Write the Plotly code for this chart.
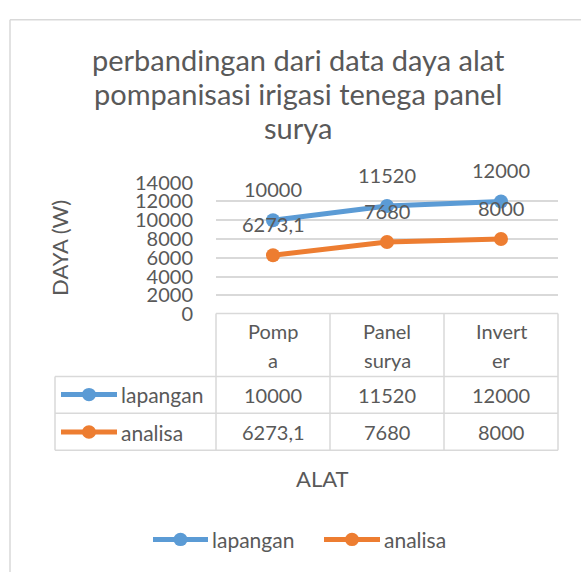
import plotly.graph_objects as go

# ---- data ----
categories = ["Pompa", "Panel surya", "Inverter"]
category_lines = [["Pomp", "a"], ["Panel", "surya"], ["Invert", "er"]]
lapangan = [10000, 11520, 12000]
analisa = [6273.1, 7680, 8000]
series_names = ["lapangan", "analisa"]
y_ticks = [0, 2000, 4000, 6000, 8000, 10000, 12000, 14000]
title_lines = ["perbandingan dari data daya alat", "pompanisasi irigasi tenega panel", "surya"]

W, H = 581, 583
FONT = "Lato"
TXT = "#595959"
GRID = "#d9d9d9"
COLORS = ["#5b9bd5", "#ed7d31"]


def px(x):
    return x / W


def py(y):
    return 1 - y / H


def fmt(v):
    return f"{v:g}".replace(".", ",")


fig = go.Figure()
series = [lapangan, analisa]
for name, vals, col in zip(series_names, series, COLORS):
    fig.add_trace(go.Scatter(
        x=categories, y=vals, name=name, mode="lines+markers",
        line=dict(color=col, width=5),
        marker=dict(color=col, size=14),
        showlegend=False, hoverinfo="x+y",
    ))

annotations = []
# data labels
for vals in series:
    for c, v in zip(categories, vals):
        annotations.append(dict(x=c, y=v, xref="x", yref="y", text=fmt(v),
                                showarrow=False, yshift=31,
                                font=dict(family=FONT, size=20, color=TXT)))

# title
for i, t in enumerate(title_lines):
    annotations.append(dict(x=px(298), y=py(49 + i * 35), xref="paper", yref="paper",
                            text=t, showarrow=False, xanchor="center", yanchor="middle",
                            font=dict(family=FONT, size=29, color=TXT)))

# axis titles
annotations.append(dict(x=px(60), y=py(245), xref="paper", yref="paper", text="DAYA (W)",
                        textangle=-90, showarrow=False, xanchor="center", yanchor="middle",
                        font=dict(family=FONT, size=22, color=TXT)))
annotations.append(dict(x=px(322), y=py(486), xref="paper", yref="paper", text="ALAT",
                        showarrow=False, xanchor="center", yanchor="middle",
                        font=dict(family=FONT, size=22, color=TXT)))

# data table
shapes = []
def hline(x0, x1, y):
    shapes.append(dict(type="line", xref="paper", yref="paper", x0=px(x0), x1=px(x1),
                       y0=py(y), y1=py(y), line=dict(color=GRID, width=1.5)))

def vline(x, y0, y1):
    shapes.append(dict(type="line", xref="paper", yref="paper", x0=px(x), x1=px(x),
                       y0=py(y0), y1=py(y1), line=dict(color=GRID, width=1.5)))

hline(216, 558, 313.5)
for yy in (379, 417.5, 456):
    hline(55, 558, yy)
vline(55, 379, 456)
for xx in (216, 330, 444, 558):
    vline(xx, 313.5, 456)

# outer chart border (top and left visible)
shapes.append(dict(type="line", xref="paper", yref="paper", x0=px(10), x1=1,
                   y0=py(7), y1=py(7), line=dict(color=GRID, width=1.5)))
shapes.append(dict(type="line", xref="paper", yref="paper", x0=px(10), x1=px(10),
                   y0=py(7), y1=0, line=dict(color=GRID, width=1.5)))

for c, lines in zip(categories, category_lines):
    for j, ln in enumerate(lines):
        annotations.append(dict(x=c, y=py(332 + 30 * j), xref="x", yref="paper", text=ln,
                                showarrow=False, yanchor="middle",
                                font=dict(family=FONT, size=20, color=TXT)))

row_y = [398, 437]
for vals, ry in zip(series, row_y):
    for c, v in zip(categories, vals):
        annotations.append(dict(x=c, y=py(ry), xref="x", yref="paper", text=fmt(v),
                                showarrow=False, yanchor="middle",
                                font=dict(family=FONT, size=20, color=TXT)))


def key(x0, x1, y, col, label):
    shapes.append(dict(type="line", xref="paper", yref="paper", x0=px(x0), x1=px(x1),
                       y0=py(y), y1=py(y), line=dict(color=col, width=5)))
    xm = (x0 + x1) / 2
    shapes.append(dict(type="circle", xref="paper", yref="paper",
                       x0=px(xm - 7), x1=px(xm + 7), y0=py(y + 7), y1=py(y - 7),
                       fillcolor=col, line=dict(color=col, width=0)))
    annotations.append(dict(x=px(x1 + 2), y=py(y), xref="paper", yref="paper", text=label,
                            showarrow=False, xanchor="left", yanchor="middle",
                            font=dict(family=FONT, size=21, color=TXT)))

# keys in the table
for name, col, ry in zip(series_names, COLORS, row_y):
    key(61, 117, ry, col, name)

# bottom legend
key(153, 208, 549, COLORS[0], series_names[0])
key(324, 380, 549, COLORS[1], series_names[1])

fig.update_layout(
    width=W, height=H, autosize=False,
    margin=dict(l=0, r=0, t=0, b=0, pad=0),
    paper_bgcolor="white", plot_bgcolor="white",
    showlegend=False,
    shapes=shapes, annotations=annotations,
    xaxis=dict(domain=[px(216), px(558)], type="category", range=[-0.5, 2.5],
               showticklabels=False, showgrid=False, zeroline=False, showline=False,
               fixedrange=True),
    yaxis=dict(domain=[py(314), py(177)], range=[0, 14000], tickvals=y_ticks,
               tickformat="d", showgrid=True, gridcolor=GRID, gridwidth=1.5,
               zeroline=False, showline=False, ticklabelstandoff=22,
               tickfont=dict(family=FONT, size=20, color=TXT), fixedrange=True),
    font=dict(family=FONT, color=TXT),
)

fig.write_html(
    "out.html",
    config={"responsive": False, "displayModeBar": False},
    post_script="document.body.style.margin='0';document.body.style.padding='0';document.body.style.overflow='hidden';",
)
